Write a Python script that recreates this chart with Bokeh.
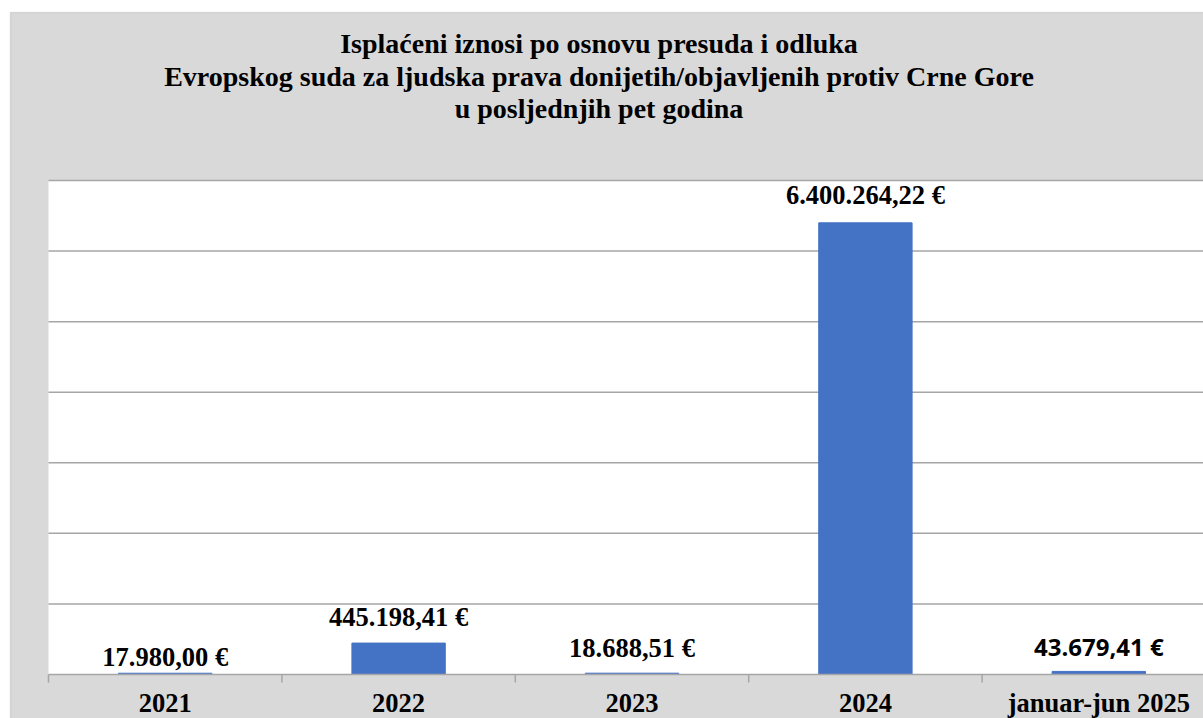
from bokeh.plotting import figure
from bokeh.models import Range1d, ColumnDataSource, BoxAnnotation
from bokeh.core.properties import value
from bokeh.embed import file_html
from bokeh.resources import INLINE

# ---- data ----
categories = ["2021", "2022", "2023", "2024", "januar-jun 2025"]
amounts = [17980.00, 445198.41, 18688.51, 6400264.22, 43679.41]
title_lines = [
    "Isplaćeni iznosi po osnovu presuda i odluka",
    "Evropskog suda za ljudska prava donijetih/objavljenih protiv Crne Gore",
    "u posljednjih pet godina",
]
y_max = 7000000
y_grid_values = [1000000, 2000000, 3000000, 4000000, 5000000, 6000000, 7000000]


def fmt_eur(v):
    s = f"{v:,.2f}".replace(",", "X").replace(".", ",").replace("X", ".")
    return s + " €"


# ---- style / layout (page pixels) ----
FIG_W, FIG_H = 1203, 718
CHART_LEFT, CHART_TOP = 10, 12                  # outer chart border
PLOT_LEFT, PLOT_TOP, PLOT_BOTTOM = 48, 180, 674  # white value area
CAT_W = 233.4
TICK_LEN = 8
GRAY = "#a6a6a6"
BORDER = "#9e9e9e"
BG = "#d9d9d9"
BAR = "#4472C4"
SERIF = "Liberation Serif"
TEXT_SHIFT = -9                                   # baseline correction

n = len(categories)
centers = [i + 0.5 for i in range(n)]
bounds = [float(i) for i in range(n + 1)]
ppu = (PLOT_BOTTOM - PLOT_TOP) / y_max


def xd(px):
    return (px - PLOT_LEFT) / CAT_W


def yd(py):
    return (PLOT_BOTTOM - py) / ppu


x_far = xd(FIG_W + 50)

p = figure(
    width=FIG_W, height=FIG_H,
    x_range=Range1d(xd(0), xd(FIG_W)), y_range=Range1d(yd(FIG_H), yd(0)),
    x_axis_location=None, y_axis_location=None,
    min_border_left=0, min_border_right=0, min_border_top=0, min_border_bottom=0,
    output_backend="svg", toolbar_location=None,
)
p.border_fill_color = "white"
p.background_fill_color = "white"
p.outline_line_color = None
p.grid.visible = False

# chart area (grey, bordered) and white value area
p.add_layout(BoxAnnotation(left=xd(CHART_LEFT), top=yd(CHART_TOP),
                           right=x_far, bottom=yd(FIG_H + 50),
                           fill_color=BG, fill_alpha=1.0, line_color=BORDER, line_width=1.5,
                           level="underlay"))
p.add_layout(BoxAnnotation(left=0, bottom=0, top=y_max, right=x_far,
                           fill_color="white", fill_alpha=1.0, line_color=None,
                           level="underlay"))

# horizontal gridlines across the value area
m = len(y_grid_values)
p.segment(x0=[0] * m, y0=y_grid_values, x1=[x_far] * m, y1=y_grid_values,
          line_color=GRAY, line_width=1.5)

# bars and value labels
src = ColumnDataSource(dict(
    x=centers, top=amounts,
    label=[fmt_eur(v) for v in amounts],
    font=[SERIF, SERIF, SERIF, SERIF, "Open Sans"],
    size=["26.5px", "26.5px", "26.5px", "26.5px", "24px"],
    yoff=[o + TEXT_SHIFT for o in [-7, -17, -16, -19, -16]],
))
p.vbar(x="x", top="top", width=0.4, bottom=0, color=BAR, source=src)
p.text(x="x", y="top", text="label", source=src, text_font="font",
       text_font_size="size", text_font_style="bold", text_align="center",
       text_baseline="alphabetic", y_offset="yoff", text_color="black")

# category axis: line, tick marks between categories, labels
p.segment(x0=[0], y0=[0], x1=[x_far], y1=[0], line_color=GRAY, line_width=1.5)
p.segment(x0=bounds, y0=[0] * len(bounds), x1=bounds,
          y1=[-TICK_LEN / ppu] * len(bounds), line_color=GRAY, line_width=1.5)
p.text(x=centers, y=[0] * n, text=categories, text_font=value(SERIF),
       text_font_size="26.5px", text_font_style="bold", text_align="center",
       text_baseline="alphabetic", y_offset=37 + TEXT_SHIFT, text_color="black")

# title (three centred lines)
title_center_px = 598.5
title_baselines_px = [52, 85, 117]
p.text(x=[xd(title_center_px)] * len(title_lines),
       y=[yd(b + TEXT_SHIFT) for b in title_baselines_px],
       text=title_lines, text_font=value(SERIF), text_font_size="28px",
       text_font_style="bold", text_align="center", text_baseline="alphabetic",
       text_color="black")

open("out.html", "w").write(file_html(p, INLINE))
